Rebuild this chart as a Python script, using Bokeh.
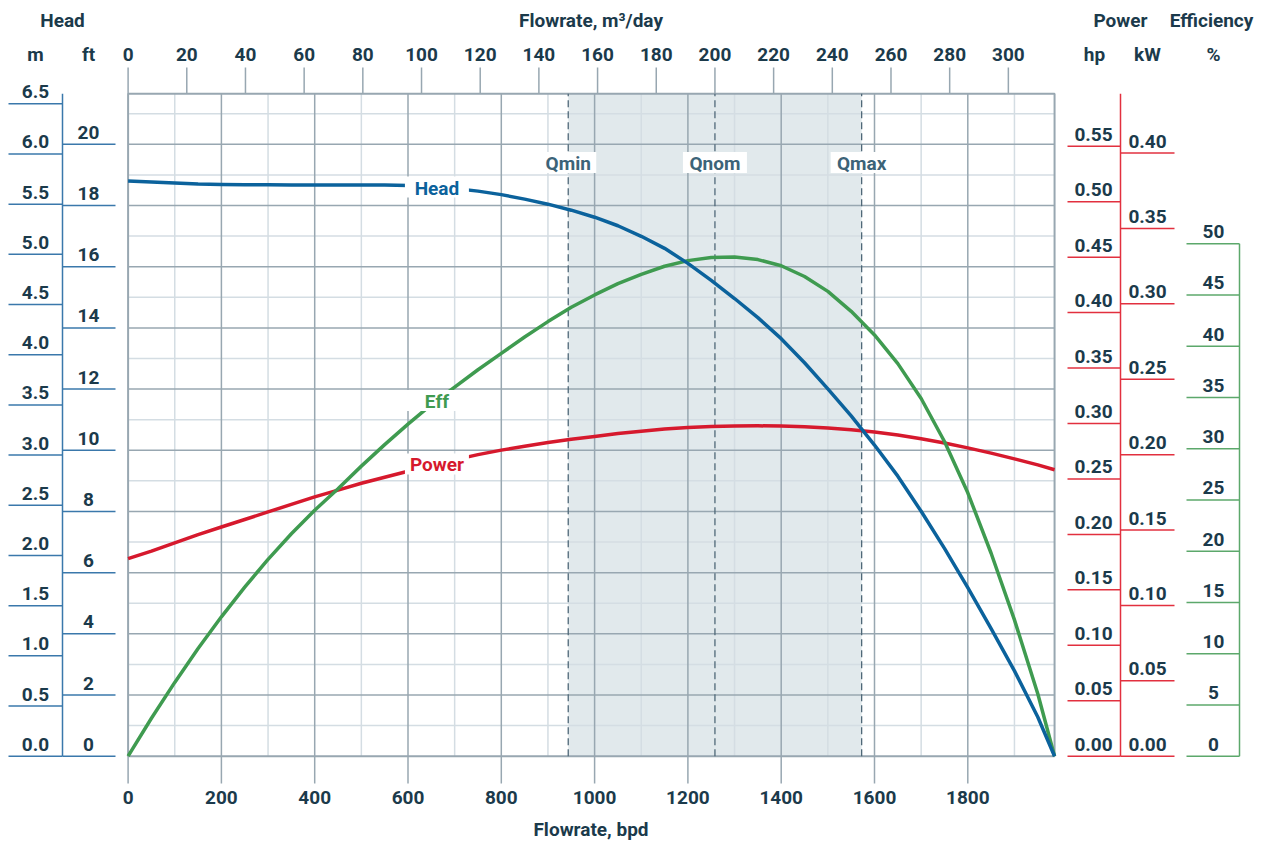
import numpy as np
from bokeh.plotting import figure
from bokeh.models import Range1d
from bokeh.core.properties import value
from bokeh.embed import file_html
from bokeh.resources import INLINE

# ---------------- data ----------------
flow_bpd = [0, 50, 100, 150, 200, 250, 300, 350, 400, 450, 500, 550, 600, 650, 700, 750,
            800, 850, 900, 950, 1000, 1050, 1100, 1150, 1200, 1250, 1300, 1350, 1400, 1450,
            1500, 1550, 1600, 1650, 1700, 1750, 1800, 1850, 1900, 1950, 1986]
head_m = [5.73, 5.72, 5.71, 5.70, 5.697, 5.694, 5.693, 5.692, 5.692, 5.692, 5.692, 5.69,
          5.686, 5.675, 5.655, 5.63, 5.595, 5.55, 5.50, 5.44, 5.37, 5.285, 5.18, 5.06,
          4.91, 4.74, 4.56, 4.37, 4.16, 3.92, 3.66, 3.39, 3.10, 2.79, 2.44, 2.07, 1.68,
          1.27, 0.85, 0.39, 0.0]
eff_pct = [0.0, 3.7, 7.2, 10.5, 13.6, 16.5, 19.2, 21.7, 24.0, 26.1, 28.3, 30.4, 32.4,
           34.3, 36.0, 37.7, 39.3, 40.9, 42.4, 43.8, 45.0, 46.1, 47.0, 47.8, 48.35, 48.65,
           48.7, 48.45, 47.85, 46.8, 45.35, 43.4, 41.1, 38.3, 34.9, 30.7, 25.7, 19.8, 13.3,
           6.1, 0.0]
power_kw = [0.131, 0.136, 0.1415, 0.147, 0.152, 0.157, 0.162, 0.167, 0.172, 0.1765, 0.181,
            0.185, 0.189, 0.193, 0.1965, 0.200, 0.203, 0.2055, 0.208, 0.2102, 0.212, 0.214,
            0.2155, 0.217, 0.218, 0.2186, 0.219, 0.2191, 0.219, 0.2185, 0.2176, 0.2165,
            0.215, 0.213, 0.2105, 0.2077, 0.2045, 0.201, 0.1972, 0.1932, 0.190]

q_m3d = [150, 200, 250]
q_names = ["Qmin", "Qnom", "Qmax"]

m_ticks = [0.0, 0.5, 1.0, 1.5, 2.0, 2.5, 3.0, 3.5, 4.0, 4.5, 5.0, 5.5, 6.0, 6.5]
ft_ticks = [0, 2, 4, 6, 8, 10, 12, 14, 16, 18, 20]
hp_ticks = [0.00, 0.05, 0.10, 0.15, 0.20, 0.25, 0.30, 0.35, 0.40, 0.45, 0.50, 0.55]
kw_ticks = [0.00, 0.05, 0.10, 0.15, 0.20, 0.25, 0.30, 0.35, 0.40]
eff_ticks = [0, 5, 10, 15, 20, 25, 30, 35, 40, 45, 50]
bpd_ticks = [0, 200, 400, 600, 800, 1000, 1200, 1400, 1600, 1800]
m3d_ticks = [0, 20, 40, 60, 80, 100, 120, 140, 160, 180, 200, 220, 240, 260, 280, 300]

BPD_PER_M3 = 6.28981
FT_PER_M = 3.28084
KW_PER_HP = 0.7355
FLOW_MAX = 1986
HEAD_TOP = 6.6

# ---------------- layout constants (page pixels) ----------------
OFF = 0
W, H = 1264, 840
X0, KX = 127.6, 0.4665      # page x of 0 bpd, px per bpd
Y0, KY = 755.7, 100.37      # page y of 0 m, px per m
KKW = 1507.8                 # px per kW
KHP = KKW * KW_PER_HP        # px per hp
KE = 10.25                   # px per %


def xb(px):
    return (px - X0) / KX


def ym(py):
    return (Y0 - py) / KY


TEXT = "#1b3a4b"
BLUE = "#0b629c"
GREEN = "#3f9b50"
RED = "#d6192d"
AX_BLUE = "#3a78ab"
AX_RED = "#e2303f"
AX_GREEN = "#5ca86b"
G_MAJ = "#98a7b1"
G_MIN = "#d4dde3"
SHADE = "#e1e9ec"
QTEXT = "#3c6378"
QLINE = "#4f6878"
FONT = "Roboto"
FS = "19px"
LAB_UP = -12   # tick labels sit above their tick line

p = figure(width=W, height=H,
           x_range=Range1d(xb(OFF), xb(OFF + W)),
           y_range=Range1d(ym(OFF + H), ym(OFF)),
           x_axis_location=None, y_axis_location=None,
           output_backend="svg", toolbar_location=None, tools="",
           min_border=0, title=None)
p.outline_line_color = None
p.background_fill_color = "white"
p.border_fill_color = "white"
p.grid.visible = False

p.extra_x_ranges = {"m3d": Range1d(xb(OFF) / BPD_PER_M3, xb(OFF + W) / BPD_PER_M3)}
p.extra_y_ranges = {
    "ft": Range1d(ym(OFF + H) * FT_PER_M, ym(OFF) * FT_PER_M),
    "kw": Range1d((Y0 - OFF - H) / KKW, (Y0 - OFF) / KKW),
    "hp": Range1d((Y0 - OFF - H) / KHP, (Y0 - OFF) / KHP),
    "eff": Range1d((Y0 - OFF - H) / KE, (Y0 - OFF) / KE),
}


def txt(x, y, t, color=TEXT, size=FS, align="center",
        xr="default", yr="default", yoff=0):
    n = len(t)
    p.text(x=list(x) if hasattr(x, "__len__") else [x] * n,
           y=list(y) if hasattr(y, "__len__") else [y] * n,
           text=list(t), text_font=value(FONT), text_font_style="bold",
           text_font_size=size, text_color=color, text_align=align,
           text_baseline="middle", y_offset=yoff,
           x_range_name=xr, y_range_name=yr)


def hseg(xa, xbb, ys, color, yr="default", width=1.5):
    n = len(ys)
    p.segment(x0=[xa] * n, x1=[xbb] * n, y0=list(ys), y1=list(ys),
              line_color=color, line_width=width, y_range_name=yr)


# ---------------- operating range shading ----------------
p.quad(left=[q_m3d[0]], right=[q_m3d[-1]], bottom=[0], top=[HEAD_TOP],
       x_range_name="m3d", fill_color=SHADE, line_color=None)

# ---------------- grid ----------------
minor_x = [v + 100 for v in range(0, 2000, 200) if v + 100 < FLOW_MAX]
major_x = [v for v in bpd_ticks if 0 < v < FLOW_MAX]
p.segment(x0=minor_x, x1=minor_x, y0=[0] * len(minor_x), y1=[HEAD_TOP] * len(minor_x),
          line_color=G_MIN, line_width=1.5)
minor_ft = [v for v in range(1, 22, 2)]
hseg(0, FLOW_MAX, minor_ft, G_MIN, yr="ft")
p.segment(x0=major_x, x1=major_x, y0=[0] * len(major_x), y1=[HEAD_TOP] * len(major_x),
          line_color=G_MAJ, line_width=1.5)
hseg(0, FLOW_MAX, [v for v in ft_ticks if v > 0], G_MAJ, yr="ft")
p.quad(left=[0], right=[FLOW_MAX], bottom=[0], top=[HEAD_TOP],
       fill_color=None, line_color=G_MAJ, line_width=2)

# ---------------- top / bottom ticks ----------------
p.segment(x0=m3d_ticks, x1=m3d_ticks, y0=[ym(67)] * len(m3d_ticks), y1=[HEAD_TOP] * len(m3d_ticks),
          x_range_name="m3d", line_color=G_MAJ, line_width=1.5)
txt(m3d_ticks, ym(53.5), [str(v) for v in m3d_ticks], xr="m3d")
p.segment(x0=bpd_ticks, x1=bpd_ticks, y0=[0] * len(bpd_ticks), y1=[ym(783)] * len(bpd_ticks),
          line_color=G_MAJ, line_width=1.5)
txt(bpd_ticks, ym(797), [str(v) for v in bpd_ticks])

# ---------------- Q lines ----------------
p.segment(x0=q_m3d, x1=q_m3d, y0=[0] * 3, y1=[HEAD_TOP] * 3, x_range_name="m3d",
          line_color=QLINE, line_width=1.3, line_dash="7 4")

# ---------------- curves ----------------
p.line(flow_bpd, power_kw, y_range_name="kw", line_color=RED, line_width=3.5, line_join="round")
p.line(flow_bpd, eff_pct, y_range_name="eff", line_color=GREEN, line_width=3.5, line_join="round")
p.line(flow_bpd, head_m, line_color=BLUE, line_width=3.5, line_join="round")

# ---------------- curve labels ----------------
lab_x = FLOW_MAX / 3.0
for yv, yr, name, col in [(float(np.interp(lab_x, flow_bpd, head_m)), "default", "Head", BLUE),
                          (float(np.interp(lab_x, flow_bpd, eff_pct)), "eff", "Eff", GREEN),
                          (float(np.interp(lab_x, flow_bpd, power_kw)), "kw", "Power", RED)]:
    p.rect(x=[lab_x], y=[yv], width=64, height=21, width_units="screen", height_units="screen",
           fill_color="white", line_color=None, y_range_name=yr)
    txt([lab_x], [yv], [name], color=col, yr=yr, yoff=1)

# ---------------- Q labels ----------------
q_lab_y = ym(162)
p.rect(x=q_m3d, y=[q_lab_y] * 3, width=[56, 64, 62], height=21, width_units="screen",
       height_units="screen", fill_color="white", line_color=None, x_range_name="m3d")
txt(q_m3d, q_lab_y, q_names, color=QTEXT, xr="m3d", yoff=1)

# ---------------- left axes (m, ft) ----------------
hseg(xb(8), xb(62), m_ticks, AX_BLUE)
txt(xb(35), m_ticks, [f"{v:.1f}" for v in m_ticks], yoff=LAB_UP)
hseg(xb(62), xb(115), ft_ticks, AX_BLUE, yr="ft")
txt(xb(88), ft_ticks, [str(v) for v in ft_ticks], yr="ft", yoff=LAB_UP)
p.segment(x0=[xb(62)], x1=[xb(62)], y0=[0], y1=[HEAD_TOP], line_color=AX_BLUE, line_width=1.5)

# ---------------- right axes (hp, kW, %) ----------------
hseg(xb(1067), xb(1120), hp_ticks, AX_RED, yr="hp")
txt(xb(1093), hp_ticks, [f"{v:.2f}" for v in hp_ticks], yr="hp", yoff=LAB_UP)
hseg(xb(1120), xb(1174), kw_ticks, AX_RED, yr="kw")
txt(xb(1147), kw_ticks, [f"{v:.2f}" for v in kw_ticks], yr="kw", yoff=LAB_UP)
p.segment(x0=[xb(1120)], x1=[xb(1120)], y0=[0], y1=[HEAD_TOP], line_color=AX_RED, line_width=1.5)
hseg(xb(1186), xb(1239), eff_ticks, AX_GREEN, yr="eff")
txt(xb(1213), eff_ticks, [str(v) for v in eff_ticks], yr="eff", yoff=LAB_UP)
p.segment(x0=[xb(1239)], x1=[xb(1239)], y0=[0], y1=[eff_ticks[-1]], y_range_name="eff",
          line_color=AX_GREEN, line_width=1.5)

# ---------------- titles ----------------
txt([xb(62)], ym(19.5), ["Head"])
txt([xb(35), xb(88)], ym(53.5), ["m", "ft"])
txt([xb(590.5)], ym(19.5), ["Flowrate, m³/day"])
txt([xb(1120)], ym(19.5), ["Power"])
txt([xb(1211)], ym(19.5), ["Efficiency"])
txt([xb(1094), xb(1147), xb(1213)], ym(53.5), ["hp", "kW", "%"])
txt([xb(590.5)], ym(829), ["Flowrate, bpd"])

open("out.html", "w").write(file_html(p, INLINE))
